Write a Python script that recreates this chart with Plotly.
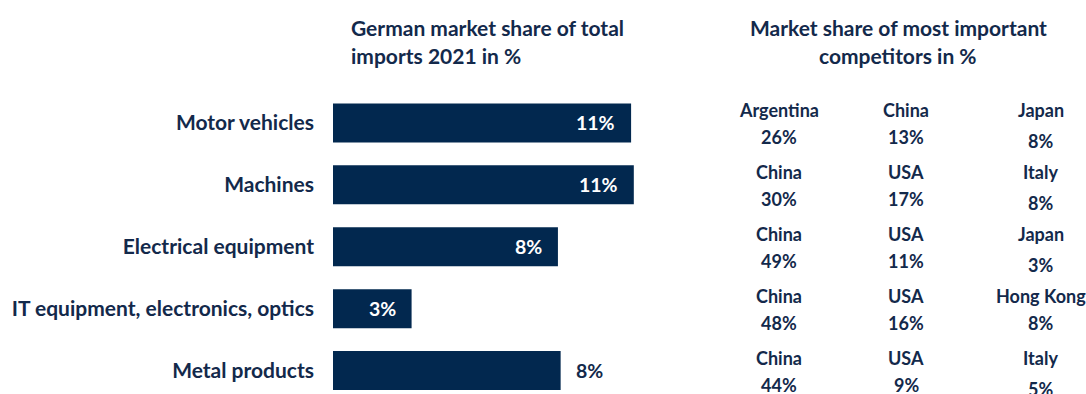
import plotly.graph_objects as go

# ---- data -------------------------------------------------------------
categories = [
    "Motor vehicles",
    "Machines",
    "Electrical equipment",
    "IT equipment, electronics, optics",
    "Metal products",
]
german_share = [11.0, 11.1, 8.3, 2.9, 8.4]  # German share of total imports 2021, %

competitor_names = [
    ["Argentina", "China", "Japan"],
    ["China", "USA", "Italy"],
    ["China", "USA", "Japan"],
    ["China", "USA", "Hong Kong"],
    ["China", "USA", "Italy"],
]
competitor_shares = [
    [26, 13, 8],
    [30, 17, 8],
    [49, 11, 3],
    [48, 16, 8],
    [44, 9, 5],
]

left_title = ["German market share of total", "imports 2021 in %"]
right_title = ["Market share of most important", "competitors in %"]

# ---- style ------------------------------------------------------------
W, H = 1086, 394
M_L, M_T = 333, 92
NAVY = "#02284F"
TEXT = "#13294B"
FONT = "Lato"
FS_TITLE = 21
FS_CAT = 21
FS_VAL = 19.5
FS_TABLE = 18
PX_PER_PCT = 27.1
X_MAX = 14.0
outside_label = {"Metal products"}
col_centers_px = [778.7, 906.4, 1040.5]


def paper_x(px):
    return (px - M_L) / (W - M_L)


fig = go.Figure(
    go.Bar(
        x=german_share,
        y=categories,
        orientation="h",
        width=0.63,
        marker=dict(color=NAVY, line=dict(width=0)),
        hoverinfo="skip",
    )
)

ann = []
# value labels on the bars
for cat, v in zip(categories, german_share):
    out = cat in outside_label
    ann.append(dict(
        x=v, y=cat, xref="x", yref="y",
        text=f"<b>{v:.0f}%</b>",
        showarrow=False,
        xanchor="left" if out else "right",
        xshift=13 if out else -14,
        font=dict(family=FONT, size=FS_VAL, color=TEXT if out else "white"),
    ))

# competitor table
for i, cat in enumerate(categories):
    for j in range(3):
        cx = paper_x(col_centers_px[j])
        ann.append(dict(
            x=cx, y=cat, xref="paper", yref="y",
            text=f"<b>{competitor_names[i][j]}</b>",
            showarrow=False, xanchor="center", yanchor="middle", yshift=13,
            font=dict(family=FONT, size=FS_TABLE, color=TEXT),
        ))
        drop = 18 if (j == 2 and i != 3) else 14.5
        ann.append(dict(
            x=cx, y=cat, xref="paper", yref="y",
            text=f"<b>{competitor_shares[i][j]}%</b>",
            showarrow=False, xanchor="center", yanchor="middle", yshift=-drop,
            font=dict(family=FONT, size=FS_TABLE, color=TEXT),
        ))

# headings
for k, line in enumerate(left_title):
    ann.append(dict(
        x=paper_x(349), y=1, xref="paper", yref="paper",
        text=f"<b>{line}</b>", showarrow=False,
        xanchor="left", yanchor="middle", yshift=M_T - (27 + 28 * k),
        font=dict(family=FONT, size=FS_TITLE, color=TEXT),
    ))
for k, line in enumerate(right_title):
    ann.append(dict(
        x=paper_x(898), y=1, xref="paper", yref="paper",
        text=f"<b>{line}</b>", showarrow=False,
        xanchor="center", yanchor="middle", yshift=M_T - (27 + 28 * k),
        font=dict(family=FONT, size=FS_TITLE, color=TEXT),
    ))

plot_w = PX_PER_PCT * X_MAX
plot_h = H - M_T
band = 61.9
fig.update_layout(
    width=W, height=H,
    margin=dict(l=M_L, r=0, t=M_T, b=0, pad=0),
    paper_bgcolor="white", plot_bgcolor="white",
    showlegend=False,
    annotations=ann,
    xaxis=dict(
        domain=[0, plot_w / (W - M_L)],
        range=[0, X_MAX],
        visible=False, fixedrange=True,
    ),
    yaxis=dict(
        categoryorder="array", categoryarray=categories,
        range=[-0.5 + plot_h / band, -0.5],
        showgrid=False, zeroline=False, showline=False, ticks="",
        ticklabelstandoff=18,
        tickfont=dict(family=FONT, size=FS_CAT, color=TEXT, weight="bold"),
        automargin=False, fixedrange=True,
    ),
)

fig.write_html("out.html", config={"displayModeBar": False})
